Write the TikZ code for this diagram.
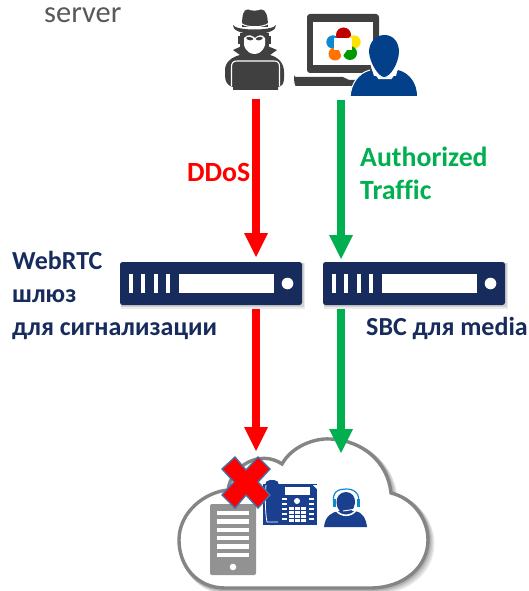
\documentclass[tikz,border=0pt]{standalone}
\usepackage{fontspec}
\setmainfont[Ligatures=NoCommon]{Carlito}
\definecolor{navy}{HTML}{172B5C}
\definecolor{hatgray}{HTML}{404040}
\definecolor{ublue}{HTML}{03408A}
\definecolor{tgreen}{HTML}{00B050}
\definecolor{cloudgray}{HTML}{858585}
\definecolor{srvgray}{HTML}{929292}
\definecolor{phoneblue}{HTML}{1A3F8F}
\tikzset{
  x=1pt,y=-1pt,
  flow/.style={line width=8pt},
  lbl/.style={font=\bfseries\fontsize{26}{33}\selectfont,text=navy,align=left,anchor=base west,inner sep=0pt},
  flowlbl/.style={font=\bfseries\fontsize{27.8}{33}\selectfont,anchor=base west,inner sep=0pt},
  rack/.style={fill=navy,rounded corners=2.5pt,draw=none},
}
\newcommand{\rackbox}[2]{%
  \fill[black!8] (#1+1,#2+1) rectangle (#1+185,#2+47);
  \fill[black!18] (#1+1,#2+1) rectangle (#1+183.5,#2+45);
  \fill[rack] (#1,#2) rectangle (#1+182,#2+43);
  \foreach \dx in {8.5,21,33.5,46}{\fill[white] (#1+\dx,#2+12) rectangle (#1+\dx+4.4,#2+30.7);}
  \fill[white] (#1+59,#2+12) rectangle (#1+154,#2+30.7);
  \fill[white] (#1+167.5,#2+21.5) circle (5.8);
}
\newcommand{\cloudpath}{(228,490) .. controls (231,466) and (260,449) .. (282,464)
 .. controls (292,446) and (315,438) .. (330,439)
 .. controls (362,440) and (388,462) .. (391,493)
 .. controls (412,498) and (428,518) .. (428,540)
 .. controls (428,566) and (405,588) .. (370,588)
 -- (225,588) .. controls (197,588) and (179,566) .. (179,540)
 .. controls (179,512) and (205,492) .. (228,490) -- cycle}
\begin{document}
\begin{tikzpicture}
\useasboundingbox (0,0) rectangle (528,591);
\fill[white] (0,0) rectangle (528,591);
\node[inner sep=0pt,anchor=base west,text=black!65,font=\fontsize{30.5}{36}\selectfont] (srv) at (44,23) {server};

% hacker
\fill[hatgray] (242,27) .. controls (242,16) and (243,9) .. (248,9.5) .. controls (251,11) and (258,11) .. (261,9.5) .. controls (266,9) and (268,16) .. (268,27) -- cycle;
\fill[hatgray] (233,25) .. controls (236,31) and (273,31) .. (276,25) .. controls (277,30) and (268,34) .. (255,34) .. controls (241,34) and (232,30) .. (233,25) -- cycle;
\draw[white,line width=1pt] (241,23) .. controls (245,28) and (264,28) .. (269,23);
\fill[hatgray] (240,33) rectangle (269,48);
\fill[hatgray] (238,36) rectangle (243,44);
\fill[hatgray] (266,36) rectangle (271,44);
\fill[hatgray] (233,50) -- (244,45) -- (265,45) -- (277,50) -- (270,55) .. controls (278,57) and (284,63) .. (284,72) -- (284,78) .. controls (284,84) and (282,86) .. (278,87) -- (278,90) -- (233,90) -- (233,87) .. controls (228,86) and (225,82) .. (225,76) -- (225,70) .. controls (225,62) and (232,57) .. (240,55) -- cycle;
% mask
\fill[white] (244,38) .. controls (248,33) and (253,36) .. (255,38) .. controls (257,36) and (262,33) .. (265,38) -- (265,45) .. controls (263,52) and (258,54) .. (254.5,54) .. controls (251,54) and (246,52) .. (244,45) -- cycle;
\fill[hatgray] (246,38) .. controls (248,36) and (252,37) .. (253.5,39) .. controls (252,41) and (248,41) .. (246,38) -- cycle;
\fill[hatgray] (263,38) .. controls (261,36) and (257,37) .. (255.5,39) .. controls (257,41) and (261,41) .. (263,38) -- cycle;
% laptop on lap
\fill[hatgray,rounded corners=3pt] (233,62) rectangle (278,90);
\draw[white,line width=1.1pt] (231.5,86) -- (231.5,67) .. controls (231.5,63) and (233,61) .. (237,61) -- (274,61) .. controls (278,61) and (279.5,63) .. (279.5,67) -- (279.5,86);

% laptop
\fill[hatgray,rounded corners=3pt] (307,14) rectangle (379,73);
\fill[white] (313,22) rectangle (373,65);
\fill[hatgray,rounded corners=2pt] (294,77) -- (345,77) -- (347,80) -- (362,80) -- (362,86) -- (298,86) .. controls (295,86) and (294,82) .. (294,77) -- cycle;
% webrtc logo
\fill[cyan!70!blue] (333,42) circle (6.7);
\fill[red!75!black] (343.5,35) circle (7.5);
\fill[yellow!85!orange] (354,42) circle (6.7);
\fill[green!60!black] (350,53) circle (7);
\fill[orange!90!red] (335,54) circle (6.5);
\fill[white] (334,38) rectangle (352,50.5);
\fill[white] (339,50) -- (347,50) -- (342,57) -- cycle;
% user
\fill[ublue] (350,96) .. controls (351,83) and (358,73) .. (371,70.5) -- (378,78) -- (392,78) -- (398,70) .. controls (410,73) and (417,84) .. (417,96) -- cycle;
\draw[white,line width=1.5pt] (372,68) -- (379,78.5) -- (391,78.5) -- (398,68);
\draw[white,line width=1pt] (350,97) .. controls (351,84) and (358,73) .. (370,70);
\fill[white] (366,50) -- (402,50) -- (396,76) -- (374,76) -- cycle;
\fill[ublue] (384.5,35) .. controls (394,35) and (399,43) .. (399,52) .. controls (398.5,64) and (390,77) .. (384,77) .. controls (379,77) and (370,64) .. (369,52) .. controls (369,43) and (375,35) .. (384.5,35) -- cycle;

% flow coordinates
\coordinate (a1) at (256,99);
\coordinate (a2) at (256,257);
\coordinate (b1) at (341,100);
\coordinate (b2) at (341,259);
\coordinate (c1) at (256,309);
\coordinate (c2) at (256,451);
\coordinate (d1) at (341,309);
\coordinate (d2) at (341,453);

% cloud
\foreach \off/\wid/\shade in {4/5/8,3/5/14,2/4.5/22,1/4/30}{
  \draw[black!\shade,line width=\wid pt,xshift=\off pt,yshift=-\off pt] \cloudpath;
}
\draw[cloudgray,line width=3.4pt,fill=white] \cloudpath;

% server
\fill[srvgray,rounded corners=2pt] (210,504) rectangle (256,575);
\foreach \yy in {511,519.3,527.7,536,544.3,552.6}{\fill[white] (217,\yy) rectangle (249,\yy+4.3);}
\fill[white] (233,567) circle (3.3);

% phone
\fill[phoneblue] (263,484) rectangle (317,525);
\fill[phoneblue,rounded corners=5pt] (265,480) rectangle (279,525);
\draw[white,line width=0.8pt] (266,485) .. controls (265,495) and (265,512) .. (267,522) -- (278,522);
\fill[white] (285,487) rectangle (310,495);
\foreach \yy in {498,503,508,513,518}{\fill[white] (282,\yy) rectangle (287,\yy+2); \fill[white] (309,\yy) rectangle (314,\yy+2);}
\foreach \xa in {289,295,301}{\foreach \yy in {507,511,515,519}{\fill[white] (\xa,\yy) rectangle (\xa+5,\yy+3);}}
\fill[white] (297,501) circle (3);
\fill[white] (313,485) -- (317,485) -- (317,489) -- cycle;

% agent
\fill[phoneblue] (324,527) .. controls (325,516) and (332,512) .. (339,511) -- (355,511) .. controls (362,512) and (366,518) .. (367,527) -- cycle;
\draw[white,line width=1.6pt] (336,510) .. controls (340,517) and (352,517) .. (356,510);
\fill[phoneblue] (346,492) .. controls (352,492) and (355.5,497) .. (355,503) .. controls (354,510) and (350,514) .. (346,514) .. controls (341,514) and (337,509) .. (336.5,503) .. controls (336,497) and (340,492) .. (346,492) -- cycle;
\draw[cyan!70!blue,line width=1.2pt] (334,505) .. controls (331,491) and (339,489) .. (346,489) .. controls (354,489) and (361,493) .. (358,505);
\fill[cyan!70!blue] (333,499) rectangle (336,507);
\fill[cyan!70!blue] (357,499) rectangle (360,507);
\draw[white,line width=0.9pt] (343,511) -- (356,509);

% X mark
\fill[red,draw=ublue!75!white,line width=1.4pt]
  (222,469) -- (235,457) -- (246,470) -- (258,457) -- (270,469) -- (258,482)
  -- (270,495) -- (258,508) -- (246,495) -- (235,508) -- (222,495) -- (234,482) -- cycle;

% arrows
\draw[red,flow] (a1) -- (256,236);
\fill[red] (244,233) -- (268,233) -- (a2) -- cycle;
\draw[tgreen,flow] (b1) -- (341,238);
\fill[tgreen] (329,235) -- (353,235) -- (b2) -- cycle;
\draw[red,flow] (c1) -- (256,430);
\fill[red] (244,427) -- (268,427) -- (c2) -- cycle;
\draw[tgreen,flow] (d1) -- (341,432);
\fill[tgreen] (329,429) -- (353,429) -- (d2) -- cycle;

% racks
\rackbox{120}{262}
\rackbox{323}{262}

% labels
\node[flowlbl,text=red] (ddos) at (187,181) {DDoS};
\node[flowlbl,text=tgreen] (auth) at (360,166) {Authorized};
\node[flowlbl,text=tgreen] (traf) at (360,199) {Traffic};
\node[lbl] (web) at (12,269) {WebRTC};
\node[lbl] (shl) at (12,302) {шлюз};
\node[lbl] (dlya) at (12,335) {для сигнализации};
\node[lbl] (sbc) at (366,335) {SBC для media};
\end{tikzpicture}
\end{document}
